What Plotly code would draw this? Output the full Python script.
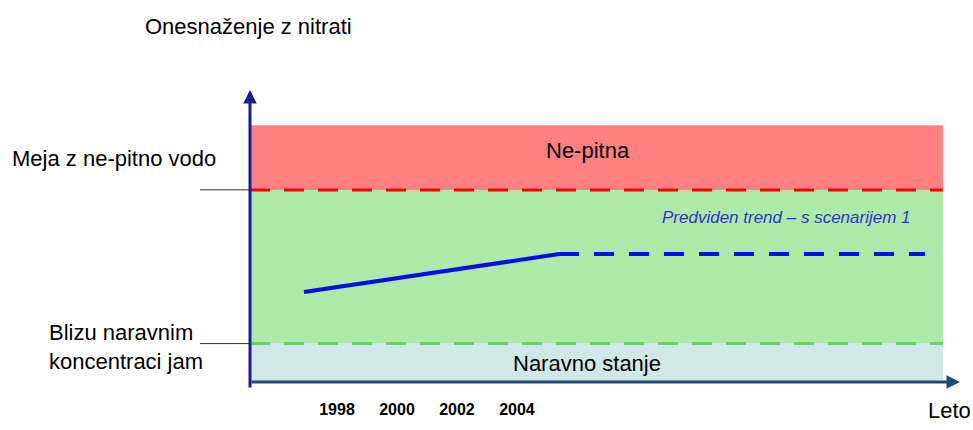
import plotly.graph_objects as go

# Nitrate pollution trend (mg/l) — observed segment and projected scenario
years_observed = [1996.9, 2005.4]
nitrate_observed = [23.4, 33.3]
years_projected = [2005.4, 2017.6]
nitrate_projected = [33.3, 33.3]

# Quality thresholds
limit_non_potable = 50.0     # boundary of non-potable water
natural_level = 10.0         # near natural concentrations
zone_top = 66.8              # upper edge of the "Ne-pitna" zone
zone_end_year = 2018.2

tick_years = [1998, 2000, 2002, 2004]
tick_labels = ["1998", "2000", "2002", "2004"]

X_RANGE = [1995.1, 2018.77]
Y_RANGE = [0, 76]

W, H = 973, 430
ML, MR, MT, MB = 250, 13, 90, 41
PW, PH = W - ML - MR, H - MT - MB
FONT = "Liberation Sans, Arial, sans-serif"


def px(x):
    return (x - ML) / PW


def py(y):
    return (H - MB - y) / PH


fig = go.Figure()

# Zone bands
x0 = X_RANGE[0]
bands = [
    (0, natural_level, "#d0e8e8"),
    (natural_level, limit_non_potable, "#ade9a9"),
    (limit_non_potable, zone_top, "#ff8080"),
]
for lo, hi, col in bands:
    fig.add_shape(type="rect", xref="x", yref="y", x0=x0, x1=zone_end_year,
                  y0=lo, y1=hi, fillcolor=col, line_width=0, layer="below")

# Threshold lines
fig.add_shape(type="line", xref="x", yref="y", x0=x0, x1=zone_end_year,
              y0=limit_non_potable, y1=limit_non_potable,
              line=dict(color="#ff0000", width=3, dash="20px,14px"))
fig.add_shape(type="line", xref="x", yref="y", x0=x0, x1=zone_end_year,
              y0=natural_level, y1=natural_level,
              line=dict(color="#5fd85f", width=3, dash="20px,14px"))

# Leader lines to the left-hand labels
for lvl in (limit_non_potable, natural_level):
    fig.add_shape(type="line", xref="paper", yref="y", x0=px(200), x1=0,
                  y0=lvl, y1=lvl, line=dict(color="#333333", width=1))

# Trend lines
fig.add_trace(go.Scatter(x=years_observed, y=nitrate_observed, mode="lines",
                         line=dict(color="#0a0af0", width=4),
                         showlegend=False, hoverinfo="skip"))
fig.add_trace(go.Scatter(x=years_projected, y=nitrate_projected, mode="lines",
                         line=dict(color="#0a0af0", width=4, dash="20px,15px"),
                         showlegend=False, hoverinfo="skip"))

# Axis arrows
fig.add_annotation(xref="paper", yref="paper", x=0, y=1, ax=0, ay=PH,
                   text="", showarrow=True, arrowhead=2, arrowsize=0.9,
                   arrowwidth=3, arrowcolor="#1b1b90", standoff=0)
fig.add_annotation(xref="paper", yref="paper", x=1, y=0, ax=-PW, ay=0,
                   text="", showarrow=True, arrowhead=2, arrowsize=0.9,
                   arrowwidth=3, arrowcolor="#1f4a7a", standoff=0)

black = dict(family=FONT, size=22, color="#000000")
texts = [
    ("Onesnaženje z nitrati", 143, 25, "left", black),
    ("Meja z ne-pitno vodo", 10, 160, "left", black),
    ("Blizu naravnim<br>koncentraci jam", 47, 353, "left", black),
    ("Ne-pitna", 588, 152, "center", black),
    ("Naravno stanje", 587, 370, "center", black),
    ("<i>Predviden trend – s scenarijem 1</i>", 786, 221, "center",
     dict(family=FONT, size=17, color="#3434c8")),
    ("Leto", 949, 418, "center", black),
]
for t, x, y, anchor, f in texts:
    fig.add_annotation(xref="paper", yref="paper", x=px(x), y=py(y), text=t,
                       showarrow=False, xanchor=anchor, yanchor="middle",
                       align="left", font=f)

fig.update_xaxes(range=X_RANGE, showgrid=False, zeroline=False, showline=False,
                 ticks="", tickmode="array", tickvals=tick_years,
                 ticktext=["<b>%s</b>" % s for s in tick_labels],
                 tickfont=dict(family=FONT, size=16, color="#000000"),
                 ticklabelstandoff=16)
fig.update_yaxes(range=Y_RANGE, showgrid=False, zeroline=False, showline=False,
                 showticklabels=False, ticks="")

fig.update_layout(width=W, height=H, autosize=False,
                  margin=dict(l=ML, r=MR, t=MT, b=MB),
                  plot_bgcolor="white", paper_bgcolor="white",
                  showlegend=False)

fig.write_html("out.html")
